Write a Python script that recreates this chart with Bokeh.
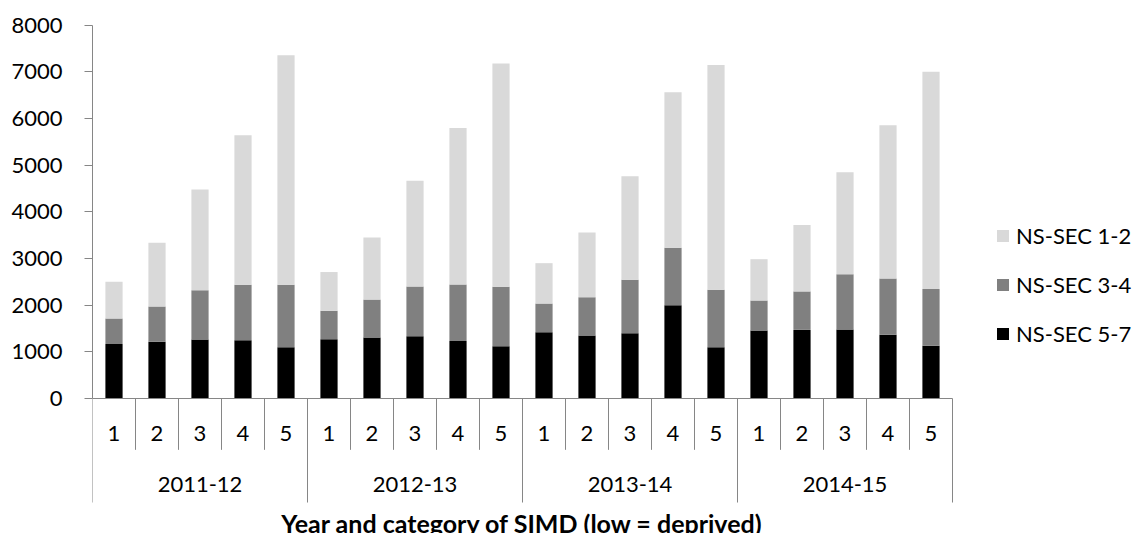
from bokeh.plotting import figure
from bokeh.models import Range1d, FixedTicker, ColumnDataSource, Legend, LegendItem
from bokeh.core.properties import value
from bokeh.embed import file_html
from bokeh.resources import INLINE

# ---- data ----
years = ["2011-12", "2012-13", "2013-14", "2014-15"]
simd = ["1", "2", "3", "4", "5"]
series_names = ["NS-SEC 5-7", "NS-SEC 3-4", "NS-SEC 1-2"]
ns_sec_5_7 = [1170, 1215, 1265, 1250, 1100,
              1270, 1305, 1335, 1230, 1120,
              1420, 1350, 1400, 2000, 1100,
              1455, 1470, 1480, 1365, 1130]
ns_sec_3_4 = [545, 755, 1055, 1185, 1335,
              610, 815, 1065, 1215, 1275,
              615, 820, 1145, 1230, 1230,
              645, 825, 1185, 1205, 1215]
ns_sec_1_2 = [785, 1370, 2160, 3205, 4920,
              830, 1330, 2265, 3350, 4785,
              865, 1385, 2220, 3330, 4815,
              885, 1425, 2185, 3285, 4655]
y_ticks = [0, 1000, 2000, 3000, 4000, 5000, 6000, 7000, 8000]
x_title = "Year and category of SIMD (low = deprived)"

colors = ["#000000", "#808080", "#D9D9D9"]
axis_col = "#868686"
FONT = "Lato"

n = len(years) * len(simd)
xs = [i + 0.5 for i in range(n)]
src = ColumnDataSource(dict(x=xs, s57=ns_sec_5_7, s34=ns_sec_3_4, s12=ns_sec_1_2))

# pixel geometry helpers (px per data unit)
W, H = 1137, 533
left = 92
frame_w = W - left
cat_px = 43.0
xmax = frame_w / cat_px
k = (398 - 24.67) / 8000.0
ytop = 8000 + 24.67 / k
ybot = -(H - 398) / k

p = figure(width=W, height=H, output_backend="svg", toolbar_location=None,
           x_range=Range1d(0, xmax), y_range=Range1d(ybot, ytop),
           x_axis_type=None, min_border_left=left, min_border_right=0,
           min_border_top=0, min_border_bottom=0)
p.outline_line_color = None
p.grid.visible = False
p.background_fill_color = "white"

ax = p.yaxis[0]
ax.ticker = FixedTicker(ticks=y_ticks)
ax.bounds = (0, 8000)
ax.axis_line_color = axis_col
ax.major_tick_line_color = axis_col
ax.major_tick_out = 8
ax.major_tick_in = 0
ax.minor_tick_out = 0
ax.minor_tick_in = 0
ax.major_label_text_font = FONT
ax.major_label_text_font_size = "22px"
ax.major_label_text_color = "black"
ax.major_label_standoff = 22

rs = p.vbar_stack(["s57", "s34", "s12"], x="x", width=0.4, source=src,
                  fill_color=colors, line_color=None)

# axis line and separators
ncat = len(simd)
small_x = [i for i in range(1, n) if i % ncat != 0]
year_x = [j * ncat for j in range(len(years) + 1)]
p.segment(x0=[0], y0=[0], x1=[n], y1=[0], line_color=axis_col, line_width=1)
p.segment(x0=small_x, y0=[0] * len(small_x), x1=small_x, y1=[-1100] * len(small_x),
          line_color=axis_col, line_width=1)
p.segment(x0=year_x, y0=[0] * len(year_x), x1=year_x, y1=[-2229] * len(year_x),
          line_color=axis_col, line_width=1)

# category labels
p.text(x=xs, y=[-750] * n, text=[simd[i % ncat] for i in range(n)],
       text_align="center", text_baseline="middle", text_font=value(FONT),
       text_font_size="22px", text_color="black")
p.text(x=[j * ncat + ncat / 2 for j in range(len(years))], y=[-1843] * len(years),
       text=years, text_align="center", text_baseline="middle",
       text_font=value(FONT), text_font_size="22px", text_color="black")
p.text(x=[n / 2], y=[-2660], text=[x_title], text_align="center",
       text_baseline="alphabetic", text_font=value(FONT), text_font_size="25px",
       text_font_style="bold", text_color="black")

legend = Legend(items=[LegendItem(label=series_names[2], renderers=[rs[2]]),
                       LegendItem(label=series_names[1], renderers=[rs[1]]),
                       LegendItem(label=series_names[0], renderers=[rs[0]])],
                location=(903, 186), orientation="vertical",
                border_line_color=None, background_fill_alpha=0,
                padding=0, margin=0, spacing=22,
                glyph_width=15, glyph_height=15, label_standoff=6,
                label_text_font=FONT, label_text_font_size="22px",
                label_text_color="black")
p.add_layout(legend)

open("out.html", "w").write(file_html(p, INLINE))
